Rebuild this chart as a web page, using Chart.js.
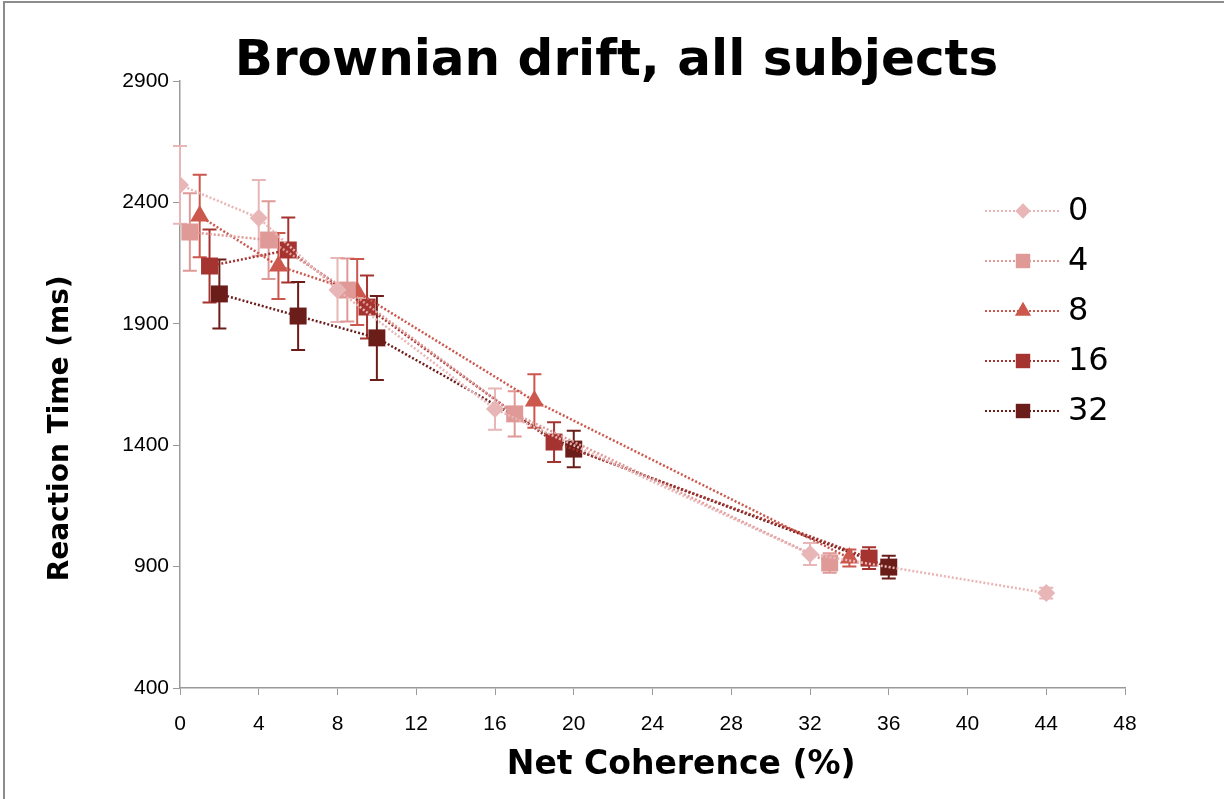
<!DOCTYPE html>
<html>
<head>
<meta charset="utf-8">
<title>Brownian drift, all subjects</title>
<script src="https://cdn.jsdelivr.net/npm/chart.js@4.4.1/dist/chart.umd.min.js"></script>
<style>
  body { margin: 0; background: #fff; }
  #wrap { position: relative; width: 1224px; height: 799px; }
  #frame { position: absolute; left: 3px; top: 1px; right: 0; bottom: 0;
           border-top: 2px solid #8c8c8c; border-left: 2px solid #8c8c8c; pointer-events: none; }
</style>
</head>
<body>
<div id="wrap">
  <canvas id="rt-chart"></canvas>
  <div id="frame"></div>
</div>
<script>
// Values (coherence %, reaction time ms, error +/- ms)
const seriesLabels = ['0', '4', '8', '16', '32'];

const coh0 = [0, 4, 8, 16, 32, 44];
const rt0  = [2472, 2336, 2039, 1549, 952, 791];
const err0 = [160, 156, 132, 85, 45, 22];

const coh4 = [0.5, 4.5, 8.5, 17, 33];
const rt4  = [2278, 2245, 2039, 1529, 915];
const err4 = [160, 160, 130, 93, 40];

const coh8 = [1, 5, 9, 18, 34];
const rt8  = [2344, 2138, 2031, 1582, 935];
const err8 = [170, 136, 136, 110, 35];

const coh16 = [1.5, 5.5, 9.5, 19, 35];
const rt16  = [2138, 2204, 1969, 1413, 935];
const err16 = [150, 134, 130, 82, 45];

const coh32 = [2, 6, 10, 20, 36];
const rt32  = [2023, 1932, 1842, 1384, 898];
const err32 = [142, 140, 173, 75, 47];

const xTicks = [0, 4, 8, 12, 16, 20, 24, 28, 32, 36, 40, 44, 48];
const yTicks = [400, 900, 1400, 1900, 2400, 2900];

const colors = ['#e8b6b6', '#df9a98', '#cc574c', '#a53430', '#6b1d1a'];
const styles = ['rectRot', 'rect', 'triangle', 'rect', 'rect'];
const radii = [9, 12, 11, 12, 12];

const tickFont = "'Liberation Sans', Arial, sans-serif";
const boldFont = "'DejaVu Sans', sans-serif";
const pad = n => '\u00a0'.repeat(n); // spaces nudge the axis titles off-centre like the original

function makePoints(xs, ys) {
    const pts = [];
    for (let i = 0; i < xs.length; i++) {
        pts.push({x: xs[i], y: ys[i]});
    }
    return pts;
}

const allX = [coh0, coh4, coh8, coh16, coh32];
const allY = [rt0, rt4, rt8, rt16, rt32];
const allErr = [err0, err4, err8, err16, err32];

const datasets = seriesLabels.map((label, i) => ({
    label: label,
    data: makePoints(allX[i], allY[i]),
    errors: allErr[i],
    borderColor: colors[i],
    backgroundColor: colors[i],
    borderWidth: 2.5,
    borderDash: [2, 2],
    pointStyle: styles[i],
    pointRadius: radii[i],
    pointHoverRadius: radii[i],
    pointBorderWidth: 0,
    showLine: true,
    tension: 0
}));

// draws the vertical error bars with caps, behind the markers
const errorBars = {
    id: 'errorBars',
    beforeDatasetsDraw(chart) {
        const ctx = chart.ctx;
        const x = chart.scales.x, y = chart.scales.y;
        chart.data.datasets.forEach(ds => {
            ctx.save();
            ctx.strokeStyle = ds.borderColor;
            ctx.lineWidth = 2;
            ds.data.forEach((p, i) => {
                const px = x.getPixelForValue(p.x);
                const top = y.getPixelForValue(p.y + ds.errors[i]);
                const bot = y.getPixelForValue(p.y - ds.errors[i]);
                ctx.beginPath();
                ctx.moveTo(px, top); ctx.lineTo(px, bot);
                ctx.moveTo(px - 7, top); ctx.lineTo(px + 7, top);
                ctx.moveTo(px - 7, bot); ctx.lineTo(px + 7, bot);
                ctx.stroke();
            });
            ctx.restore();
        });
    }
};

// excel-style legend: dotted line with the marker in the middle
const sideLegend = {
    id: 'sideLegend',
    afterDraw(chart) {
        const ctx = chart.ctx;
        const left = chart.chartArea.right - 140;
        chart.data.datasets.forEach((ds, i) => {
            const rowY = 211 + i * 50;
            ctx.save();
            ctx.strokeStyle = ds.borderColor;
            ctx.lineWidth = 2;
            ctx.setLineDash([2, 2]);
            ctx.beginPath();
            ctx.moveTo(left, rowY); ctx.lineTo(left + 75, rowY);
            ctx.stroke();
            ctx.setLineDash([]);
            ctx.fillStyle = ds.backgroundColor;
            Chart.helpers.drawPoint(ctx, {pointStyle: ds.pointStyle, radius: ds.pointRadius * 0.85, rotation: 0, borderWidth: 0}, left + 38, rowY);
            ctx.fillStyle = '#000';
            ctx.font = "32px 'DejaVu Sans', sans-serif";
            ctx.textBaseline = 'middle';
            ctx.fillText(ds.label, left + 83, rowY + 1);
            ctx.restore();
        });
    }
};

const ctx = document.getElementById('rt-chart').getContext('2d');
const chart = new Chart(ctx, {
    type: 'scatter',
    data: { datasets: datasets },
    plugins: [errorBars, sideLegend],
    options: {
        responsive: true,
        maintainAspectRatio: false,
        animation: false,
        layout: { padding: { left: 40, right: 31, top: 0, bottom: 10 } },
        plugins: {
            legend: { display: false },
            tooltip: { enabled: false },
            title: {
                display: true,
                text: 'Brownian drift, all subjects',
                color: '#000',
                font: { family: boldFont, size: 50, weight: 'bold', lineHeight: 1 },
                padding: { top: 37, bottom: -6 }
            }
        },
        scales: {
            x: {
                type: 'linear',
                min: 0,
                max: 48,
                afterFit: s => { s.height = 101; },
                afterBuildTicks: s => { s.ticks = xTicks.map(v => ({value: v})); },
                border: { color: '#9a9a9a', width: 1.5 },
                grid: { drawOnChartArea: false, drawTicks: true, tickLength: 7, color: '#9a9a9a' },
                ticks: { color: '#000', padding: 17, maxRotation: 0, callback: v => String(v), font: { family: tickFont, size: 21 } },
                title: {
                    display: true,
                    text: pad(5) + 'Net Coherence (%)',
                    color: '#000',
                    padding: { top: 4, bottom: 4 },
                    font: { family: boldFont, size: 33, weight: 'bold' }
                }
            },
            y: {
                type: 'linear',
                min: 400,
                max: 2900,
                afterFit: s => { s.width = 140; },
                afterBuildTicks: s => { s.ticks = yTicks.map(v => ({value: v})); },
                border: { color: '#9a9a9a', width: 1.5 },
                grid: { drawOnChartArea: false, drawTicks: true, tickLength: 7, color: '#9a9a9a' },
                ticks: { color: '#000', padding: 4, callback: v => String(v), font: { family: tickFont, size: 21 } },
                title: {
                    display: true,
                    text: 'Reaction Time (ms)' + pad(9),
                    color: '#000',
                    padding: { top: 4, bottom: 4 },
                    font: { family: boldFont, size: 28, weight: 'bold' }
                }
            },
            // empty right-hand axis: only reserves the room the legend sits in
            legendSpace: {
                type: 'linear',
                position: 'right',
                afterFit: s => { s.width = 68; },
                border: { display: false },
                grid: { display: false },
                ticks: { display: false }
            }
        }
    }
});
</script>
</body>
</html>
